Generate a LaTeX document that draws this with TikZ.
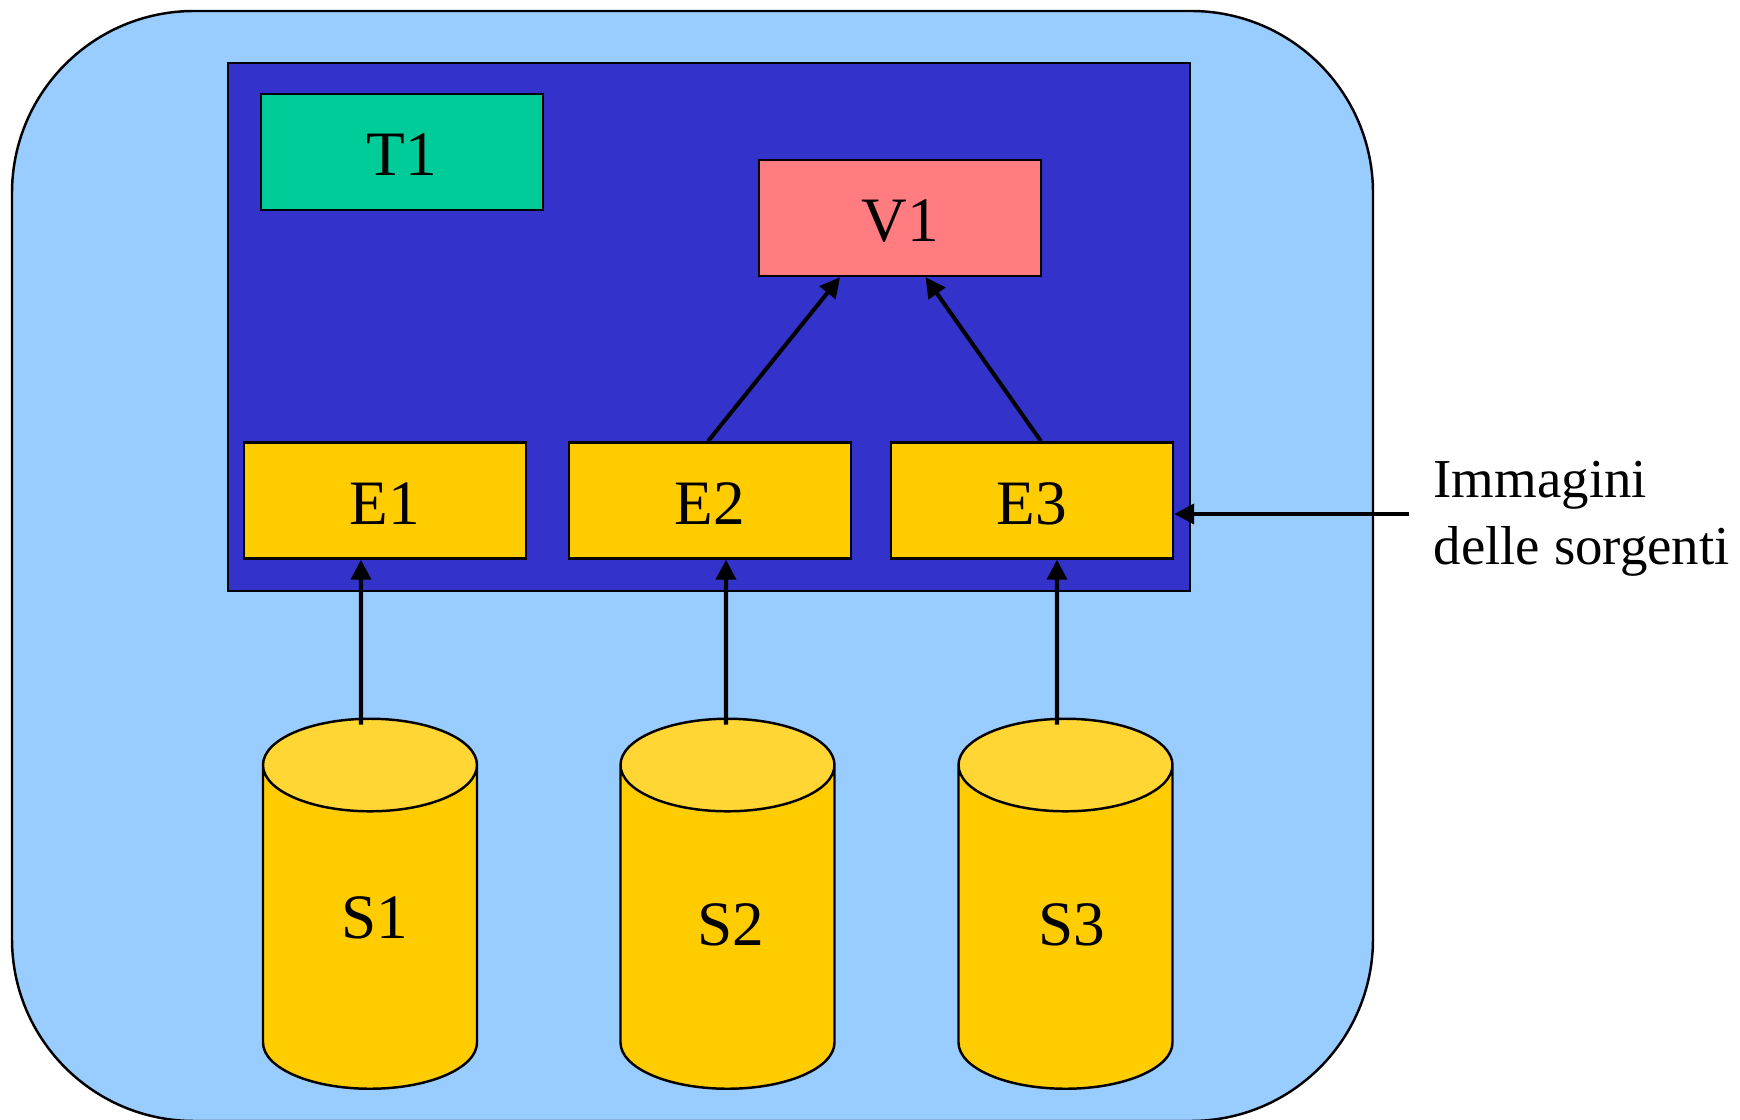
\documentclass[tikz,border=0pt]{standalone}
\usepackage{fontspec}
\setmainfont{Liberation Serif}
\usetikzlibrary{arrows.meta, positioning, shapes.geometric}
\definecolor{sfondo}{HTML}{99CCFF}
\definecolor{schema}{HTML}{3333CC}
\definecolor{tabella}{HTML}{00CC99}
\definecolor{vista}{HTML}{FF7C80}
\definecolor{giallo}{HTML}{FFCC00}
\definecolor{tappo}{HTML}{FFD633}
\tikzset{
    box/.style={draw, rectangle, line width=0.7pt, minimum width=2.82cm, minimum height=1.16cm, inner sep=0pt, text height=0.48cm, text depth=0cm, font=\fontsize{18}{22}\selectfont},
    tank/.style={draw, cylinder, shape border rotate=90, shape aspect=3.95, anchor=south, line width=0.7pt, minimum width=2.14cm, minimum height=3.70cm, cylinder uses custom fill, cylinder body fill=giallo, cylinder end fill=tappo},
    tanklabel/.style={inner sep=0pt, font=\fontsize{18}{22}\selectfont}
}

\begin{document}
\begin{tikzpicture}[>={Triangle[length=0.2cm, width=0.2cm]}, arr/.style={->, line width=1.15pt}]
    \useasboundingbox (0,0) rectangle (17.4,11.2);

    \node[draw, rectangle, fill=sfondo, rounded corners=1.82cm, line width=0.7pt, minimum width=13.61cm, minimum height=11.10cm] (Sistema) at (6.925,5.54) {};
    \node[draw, rectangle, fill=schema, line width=0.7pt, minimum width=9.625cm, minimum height=5.285cm] (DW) at (7.09,7.93) {};

    \node[box, fill=tabella] (T1) at (4.02,9.68) {T1};
    \node[box, fill=vista] (V1) at (9.00,9.02) {V1};
    \node[box, fill=giallo] (E1) at (3.85,6.195) {E1};
    \node[box, fill=giallo] (E2) at (7.10,6.195) {E2};
    \node[box, fill=giallo] (E3) at (10.32,6.195) {E3};

    \node[tank] (S1) at (3.70,0.30) {};
    \node[tank] (S2) at (7.275,0.30) {};
    \node[tank] (S3) at (10.655,0.30) {};
    \node[tanklabel] (LS1) at (3.75,2.02) {S1};
    \node[tanklabel] (LS2) at (7.31,1.95) {S2};
    \node[tanklabel] (LS3) at (10.72,1.95) {S3};

    \node[inner sep=0pt, align=left, anchor=north west, font=\fontsize{15.6}{19}\selectfont] (Immagini) at (14.33,6.59) {Immagini\\delle sorgenti};
    \coordinate (Freccia) at (14.09,6.06);

    \draw[arr] ([xshift=-0.09cm, yshift=-0.07cm]S1.north) -- ([xshift=-0.24cm]E1.south);
    \draw[arr] ([xshift=-0.015cm, yshift=-0.07cm]S2.north) -- ([xshift=0.16cm]E2.south);
    \draw[arr] ([xshift=-0.085cm, yshift=-0.07cm]S3.north) -- ([xshift=0.25cm]E3.south);
    \draw[arr] ([xshift=-0.02cm]E2.north) -- ([xshift=-0.60cm]V1.south);
    \draw[arr] ([xshift=0.09cm]E3.north) -- ([xshift=0.255cm]V1.south);
    \draw[arr] (Freccia) -- (Freccia -| E3.east);
\end{tikzpicture}
\end{document}
